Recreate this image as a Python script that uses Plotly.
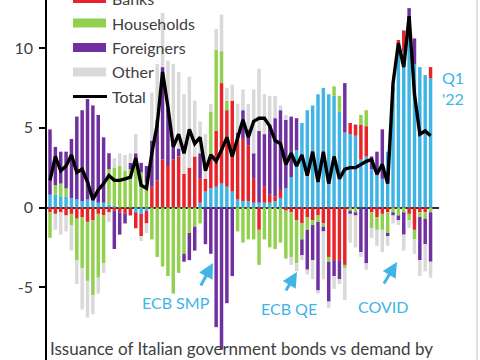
import plotly.graph_objects as go

# ---- data (% values, quarters 2004Q2 .. 2022Q1) ----
quarters = [f"{y}Q{q}" for y in range(2004, 2023) for q in range(1, 5)][1:73]

ecb = [0.8, 0.8, 0.7, 0.7, 0.6, 0.5, 0.4, 0.5, 0.4, 0.3, 0.3, 0.2, 0.1, 0.0, 0.0,
       0.0, -0.3, -0.4, -0.2, 0.0, 0.0, 0.0, 0.0, 0.0, 0.0, 0.0, 0.0, 0.0, 0.3,
       1.0, 1.2, 1.3, 1.5, 1.3, 1.0, 0.5, 0.4, 0.4, 0.3, 0.3, 0.3, 0.3, 0.4, 0.6, 1.2,
       1.9, 3.6, 5.3, 6.1, 6.4, 7.1, 7.5, 7.1, 7.0, 6.0, 4.7, 4.6, 4.5, 3.0,
       3.2, 2.4, 2.0, 1.8, 3.5, 7.6, 10.3, 9.8, 10.9, 9.0, 8.8, 8.3, 8.1]
banks = [-0.3, -0.4, -0.3, -0.5, -0.4, -0.7, -0.6, -0.9, -0.8, -0.4, -0.5, -0.3, -0.2, -0.3, -0.4,
         -0.5, -1.0, -1.4, -0.8, 1.3, 1.7, 3.0, 2.6, 3.0, 3.2, 2.1, 2.5, 3.2, 1.5,
         0.8, 2.0, 3.5, 6.3, 4.8, 5.7, 3.9, 3.9, 3.5, 1.5, -1.4, 1.0, 0.5, 0.3, 0.5, -0.2,
         -0.3, -0.8, -1.0, -0.6, -0.8, -0.5, -1.0, -3.1, -3.3, -3.3, -3.6, 0.7, 0.7, 2.2,
         1.9, -0.3, -0.6, -0.4, -0.3, 0.0, 0.2, 1.3, -0.4, -1.4, -0.3, -0.3, 0.7]
households = [-1.6, 0.6, 0.8, 0.5, -0.7, -2.6, -3.2, -3.7, -4.7, -4.0, -3.0, 2.2, 2.4, 2.6, 2.3,
              2.4, 2.6, 2.2, 1.6, -2.0, -3.1, -3.7, -4.3, -5.4, -4.1, -2.9, -1.6, -1.2, -1.0,
              0.0, 2.8, 5.1, 2.0, 0.6, 0.0, -1.5, -2.2, -2.0, -2.0, -2.2, -2.0, -2.5, -2.6, -2.2, -3.0,
              -2.8, -2.7, -1.0, -0.8, -0.3, -0.4, -0.2, -0.3, 0.6, 1.0, -0.2, -0.2, -0.3, 0.6,
              1.0, -1.0, -0.8, -1.0, -1.3, -0.3, -0.5, -0.3, -0.4, -0.6, -0.3, -0.4, -0.3]
foreigners = [4.1, 2.4, 2.0, 2.3, 3.7, 5.2, 5.7, 6.3, 6.0, 5.5, 4.1, 1.0, -2.4, -1.4, -0.6,
              0.4, 0.8, 0.6, 1.0, 2.9, 3.8, 5.8, 3.6, 1.0, 0.5, -0.5, -1.7, -1.5, 1.6,
              -2.3, -2.9, -7.5, -8.9, -6.0, -4.3, 0.3, 1.8, 1.0, 1.6, 4.5, 3.3, 4.4, 4.9, 5.0, 4.3,
              3.8, 2.0, -1.0, -2.5, -2.2, -4.3, -0.3, -2.5, -1.0, -1.2, 3.1, -0.2, -0.2, -2.8,
              -3.5, 0.8, 1.5, 3.1, -0.2, -0.2, -0.3, -1.4, 1.6, 1.6, -2.7, -1.6, -3.1]
other = [0.0, -1.0, -1.4, -1.0, -1.6, -1.5, -2.6, -2.3, -1.2, -1.0, -0.6, -0.6, 0.6, 0.8, 1.0,
         0.6, 1.2, -0.3, -0.6, 3.0, 3.5, 3.4, 3.0, 5.0, 4.8, 5.0, 5.7, 3.5, 2.0,
         2.8, 0.5, 1.3, 2.3, 0.8, 1.0, 1.8, 1.3, 1.6, 4.0, 3.9, 2.5, 1.8, 1.4, 0.3, 0.3,
         -0.5, -0.5, -0.3, -0.3, -1.2, -0.2, -3.0, -0.4, -0.8, -0.3, -2.0, -1.8, -2.0, -0.3,
         -0.4, -0.6, -1.0, -1.4, -0.6, -0.5, -0.3, -1.0, -0.5, -0.9, -1.0, -1.7, -1.0]
total = [1.7, 3.2, 2.3, 2.6, 3.3, 2.2, 2.4, 1.6, 0.5, 1.1, 1.5, 2.0, 1.7, 1.7, 1.8,
         1.9, 3.1, 1.4, 1.2, 3.4, 5.2, 8.5, 6.3, 3.8, 4.6, 3.4, 4.9, 4.0, 4.4,
         2.3, 3.3, 2.9, 3.6, 4.4, 3.2, 4.4, 5.5, 4.4, 5.4, 5.6, 5.6, 5.1, 4.2, 4.0, 2.7,
         3.4, 2.6, 3.3, 2.0, 3.5, 1.6, 3.5, 1.5, 3.2, 1.8, 2.4, 2.5, 2.5, 2.7,
         2.9, 3.0, 2.1, 2.7, 1.5, 7.8, 10.3, 8.8, 12.0, 7.1, 4.6, 4.8, 4.5]

series_names = ["ECB", "Banks", "Households", "Foreigners", "Other"]
series_values = [ecb, banks, households, foreigners, other]
series_colors = ["#41B4E6", "#E8242B", "#92D050", "#7030A0", "#D9D9D9"]
legend_items = ["Banks", "Households", "Foreigners", "Other", "Total"]
yticks = [-5, 0, 5, 10]

# ---- layout geometry (pixels) ----
W, H = 480, 360
L, R = 47, 439          # plot area left / right edge
def px(x):  # pixel -> paper x
    return (x - L) / (R - L)
def py(y):  # pixel -> paper y
    return 1 - y / H

fig = go.Figure()
for name, vals, col in zip(series_names, series_values, series_colors):
    fig.add_trace(go.Bar(x=quarters, y=vals, name=name, marker_color=col,
                         marker_line_width=0, showlegend=False))
fig.add_trace(go.Scatter(x=quarters, y=total, name="Total", mode="lines",
                         line=dict(color="black", width=3.4), showlegend=False))

FONT = "Lato, 'Open Sans', sans-serif"
TXT = "#404040"
CYAN = "#41B4E6"

shapes = []
annotations = []
# manual legend (swatches + labels), top item partly cut by the frame
leg_y = [-1.5, 23, 47.5, 72, 96.5]
leg_col = ["#E8242B", "#92D050", "#7030A0", "#D9D9D9"]
for i, lab in enumerate(legend_items):
    yc = leg_y[i]
    if i < 4:
        shapes.append(dict(type="rect", xref="paper", yref="paper",
                           x0=px(73), x1=px(106), y0=py(yc - 4.5), y1=py(yc + 4.5),
                           fillcolor=leg_col[i], line_width=0))
    else:
        shapes.append(dict(type="line", xref="paper", yref="paper",
                           x0=px(73), x1=px(107), y0=py(yc), y1=py(yc),
                           line=dict(color="black", width=3)))
    annotations.append(dict(text=lab, xref="paper", yref="paper", x=px(110), y=py(yc),
                            xanchor="left", yanchor="middle", showarrow=False,
                            font=dict(family=FONT, size=16, color=TXT)))

# frame line on the right
shapes.append(dict(type="line", xref="paper", yref="paper", x0=px(477), x1=px(477),
                   y0=0, y1=1, line=dict(color="#D6D6D6", width=1.5)))

# partially visible -10 tick label
annotations.append(dict(text="-10", xref="paper", yref="paper", x=px(32), y=py(366),
                        xanchor="right", yanchor="middle", showarrow=False,
                        font=dict(family=FONT, size=16, color=TXT)))

# event labels and arrows
for lab, cx, cy, tipx, tipy, ax, ay in [
        ("ECB SMP", 176, 302, 213, 263, -13, 24),
        ("ECB QE", 289, 308, 297, 272, -12, 20),
        ("COVID", 383, 306, 397, 262, -14, 23)]:
    annotations.append(dict(text=lab, xref="paper", yref="paper", x=px(cx), y=py(cy),
                            xanchor="center", yanchor="middle", showarrow=False,
                            font=dict(family=FONT, size=16, color=CYAN)))
    annotations.append(dict(text="", xref="paper", yref="paper", x=px(tipx), y=py(tipy),
                            showarrow=True, ax=ax, ay=ay, arrowhead=2, arrowsize=1,
                            arrowwidth=3, arrowcolor=CYAN))

annotations.append(dict(text="Q1<br>'22", xref="paper", yref="paper", x=px(440), y=py(88),
                        xanchor="left", yanchor="middle", align="left", showarrow=False,
                        font=dict(family=FONT, size=16, color=CYAN)))

annotations.append(dict(text="Issuance of Italian government bonds vs demand by",
                        xref="paper", yref="paper", x=px(241), y=py(348),
                        xanchor="center", yanchor="middle", showarrow=False,
                        font=dict(family=FONT, size=17, color=TXT)))

step = 5.36
x0 = -(50 - L) / step
x1 = x0 + (R - L) / step
y_top = 207.5 / 15.95
y_bot = (207.5 - H) / 15.95

fig.update_layout(
    width=W, height=H,
    margin=dict(l=L, r=W - R, t=0, b=0, autoexpand=False),
    paper_bgcolor="white", plot_bgcolor="white",
    barmode="relative", bargap=0.35,
    font=dict(family=FONT, size=16, color=TXT),
    shapes=shapes, annotations=annotations,
    xaxis=dict(type="category", range=[x0, x1], showticklabels=False, showgrid=False,
               zeroline=False, showline=False, ticks=""),
    yaxis=dict(range=[y_bot, y_top], tickvals=yticks, ticktext=[str(v) for v in yticks],
               showgrid=False, showline=True, linecolor="black", linewidth=1.5,
               ticks="outside", ticklen=6, tickwidth=1.5, tickcolor="black",
               ticklabelstandoff=3,
               zeroline=True, zerolinecolor="#303030", zerolinewidth=1.5,
               tickfont=dict(family=FONT, size=16, color=TXT)),
)

fig.write_html("out.html",
               config={"displayModeBar": False},
               post_script="document.documentElement.style.margin='0';"
                           "document.body.style.margin='0';"
                           "document.body.style.overflow='hidden';")
